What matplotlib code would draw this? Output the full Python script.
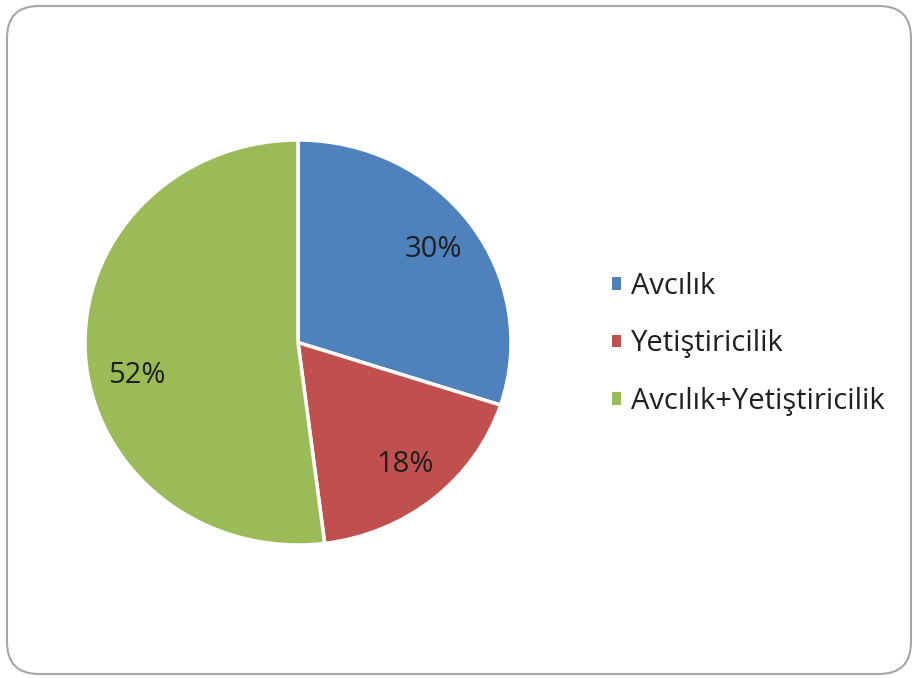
import numpy as np
import matplotlib.pyplot as plt
from matplotlib.patches import FancyBboxPatch, Patch

labels = ["Avcılık", "Yetiştiricilik", "Avcılık+Yetiştiricilik"]
values = [30, 18, 52]
colors = ["#4F81BD", "#C0504D", "#9BBB59"]

plt.rcParams['font.family'] = ['Open Sans', 'DejaVu Sans']

W, H = 914, 678
fig = plt.figure(figsize=(W / 100, H / 100), dpi=100)

# rounded frame around the chart area
frame = FancyBboxPatch((7 / W, 4 / H), 904 / W, 668 / H,
                       boxstyle="round,pad=0,rounding_size=0.035",
                       transform=fig.transFigure, facecolor="white",
                       edgecolor="#a6a6a6", linewidth=1.5,
                       mutation_aspect=W / H, zorder=-5)
fig.patches.append(frame)

# the original pie is slightly stretched horizontally
cx, cy, rx, ry = 298, H - 342.5, 213, 202.5
ax = fig.add_axes([(cx - rx) / W, (cy - ry) / H, 2 * rx / W, 2 * ry / H])
ax.set_zorder(2)
wedges, _, autotexts = ax.pie(values, colors=colors, startangle=90, counterclock=False,
                              autopct="%d%%", pctdistance=0.785, radius=1,
                              wedgeprops=dict(edgecolor="white", linewidth=2.5),
                              textprops=dict(fontsize=21, color="#1f1f1f"))
# Excel put the big slice's label a little lower than the slice middle
a = np.deg2rad(192)
autotexts[2].set_position((0.775 * np.cos(a), 0.775 * np.sin(a)))
ax.set_xlim(-1, 1)
ax.set_ylim(-1, 1)
ax.set_aspect("auto")

handles = [Patch(facecolor=c, edgecolor="none") for c in colors]
leg = fig.legend(handles, labels, loc="center left", bbox_to_anchor=(612 / W, (H - 344) / H),
                 frameon=False, fontsize=21, handlelength=0.3, handleheight=0.3,
                 handletextpad=0.34, labelspacing=0.99, borderpad=0, borderaxespad=0,
                 labelcolor="#1f1f1f")
leg.set_zorder(3)

fig.savefig("out.png", dpi=100)
